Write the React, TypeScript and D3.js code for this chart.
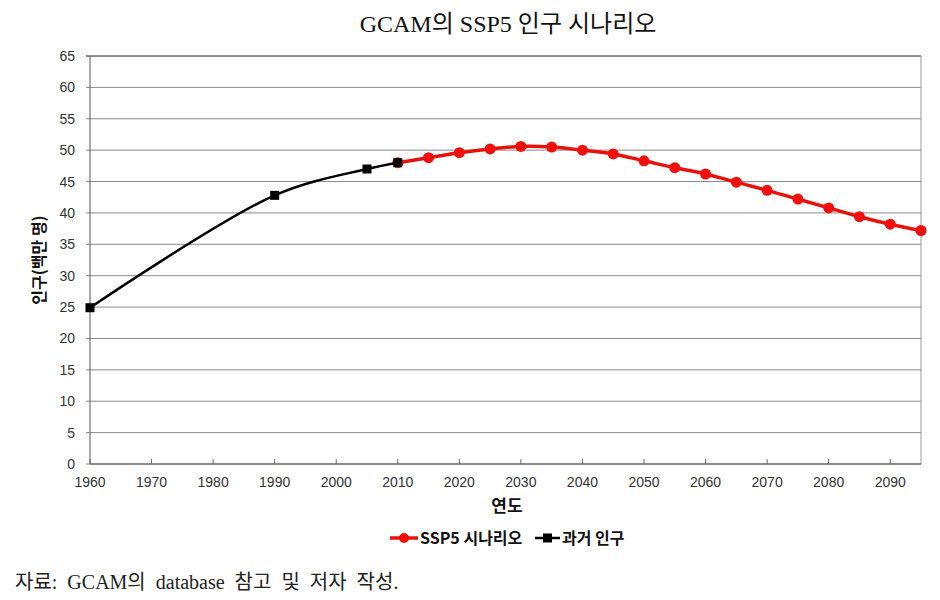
import React from "react";
import * as d3 from "d3";

const histYears = [1960, 1990, 2005, 2010];
const histValues = [24.9, 42.8, 47.0, 48.0];

const sspYears = [2010, 2015, 2020, 2025, 2030, 2035, 2040, 2045, 2050, 2055, 2060, 2065, 2070, 2075, 2080, 2085, 2090, 2095];
const sspValues = [48.0, 48.8, 49.6, 50.2, 50.6, 50.5, 50.0, 49.4, 48.3, 47.2, 46.2, 44.9, 43.6, 42.2, 40.8, 39.4, 38.2, 37.2];

const xTicks = [1960, 1970, 1980, 1990, 2000, 2010, 2020, 2030, 2040, 2050, 2060, 2070, 2080, 2090];
const yTicks = [0, 5, 10, 15, 20, 25, 30, 35, 40, 45, 50, 55, 60, 65];

const title = "GCAM의 SSP5 인구 시나리오";
const xTitle = "연도";
const yTitle = "인구(백만 명)";
const legendLabels = ["SSP5 시나리오", "과거 인구"];
const caption = "자료: GCAM의 database 참고 및 저자 작성.";

export default function App() {
  const W = 940, H = 600;
  const left = 90, right = 921, top = 56, bottom = 464;
  const x = d3.scaleLinear().domain([1960, 2095]).range([left, right]);
  const y = d3.scaleLinear().domain([0, 65]).range([bottom, top]);

  const hist = histYears.map((yr, i) => [yr, histValues[i]] as [number, number]);
  const ssp = sspYears.map((yr, i) => [yr, sspValues[i]] as [number, number]);
  const line = d3.line<[number, number]>().x(d => x(d[0])).y(d => y(d[1])).curve(d3.curveCatmullRom.alpha(0.5));

  const serif = "'Liberation Serif', 'Noto Sans CJK KR', serif";
  const sans = "'Liberation Sans', 'Noto Sans CJK KR', sans-serif";
  const kr = "'Noto Sans CJK KR', sans-serif";

  return (
    <svg width={W} height={H} style={{ position: "absolute", left: 0, top: 0, background: "#fff" }}>
      <rect x={0} y={0} width={W} height={H} fill="#fff" />
      <text x={508} y={32} textAnchor="middle" fontFamily={serif} fontSize={24} fill="#111">{title}</text>

      {yTicks.map(t => (
        <g key={"y" + t}>
          <line x1={left - 4} x2={right} y1={y(t)} y2={y(t)} stroke={t === 65 ? "#222" : "#8a8a8a"} strokeWidth={1} />
          <text x={75} y={y(t) + 5} textAnchor="end" fontFamily={sans} fontSize={14} fill="#333">{t}</text>
        </g>
      ))}
      <line x1={right} x2={right} y1={top} y2={bottom} stroke="#999" strokeWidth={1} />
      <line x1={left} x2={left} y1={top} y2={bottom} stroke="#555" strokeWidth={1} />
      <line x1={left} x2={right} y1={bottom} y2={bottom} stroke="#555" strokeWidth={1} />
      {xTicks.map(t => (
        <g key={"x" + t}>
          <line x1={x(t)} x2={x(t)} y1={bottom} y2={bottom - 5} stroke="#666" />
          <text x={x(t)} y={487} textAnchor="middle" fontFamily={sans} fontSize={14} fill="#333">{t}</text>
        </g>
      ))}

      <text x={507} y={512} textAnchor="middle" fontFamily={kr} fontWeight="bold" fontSize={17} fill="#111">{xTitle}</text>
      <text transform={`translate(45,${(top + bottom) / 2}) rotate(-90)`} textAnchor="middle" fontFamily={kr} fontWeight="bold" fontSize={16} fill="#111">{yTitle}</text>

      <path d={line(ssp) || ""} fill="none" stroke="#e8120c" strokeWidth={3.5} />
      {ssp.map((d, i) => (
        <circle key={"c" + i} cx={x(d[0])} cy={y(d[1])} r={5.5} fill="#f00f0a" />
      ))}
      <path d={line(hist) || ""} fill="none" stroke="#000" strokeWidth={2.5} />
      {hist.map((d, i) => (
        <rect key={"s" + i} x={x(d[0]) - 4.5} y={y(d[1]) - 4.5} width={9} height={9} fill="#000" />
      ))}

      <g>
        <line x1={390} x2={418} y1={538} y2={538} stroke="#e8120c" strokeWidth={3.5} />
        <circle cx={404} cy={538} r={5} fill="#f00f0a" />
        <text x={420} y={544} fontFamily={kr} fontWeight="bold" fontSize={16} fill="#111">{legendLabels[0]}</text>
        <line x1={535} x2={560} y1={538} y2={538} stroke="#000" strokeWidth={2.5} />
        <rect x={543} y={533.5} width={9} height={9} fill="#000" />
        <text x={562} y={544} fontFamily={kr} fontWeight="bold" fontSize={16} fill="#111">{legendLabels[1]}</text>
      </g>

      <text x={15} y={589} fontFamily={serif} fontSize={20} wordSpacing={5} fill="#222">{caption}</text>
    </svg>
  );
}
